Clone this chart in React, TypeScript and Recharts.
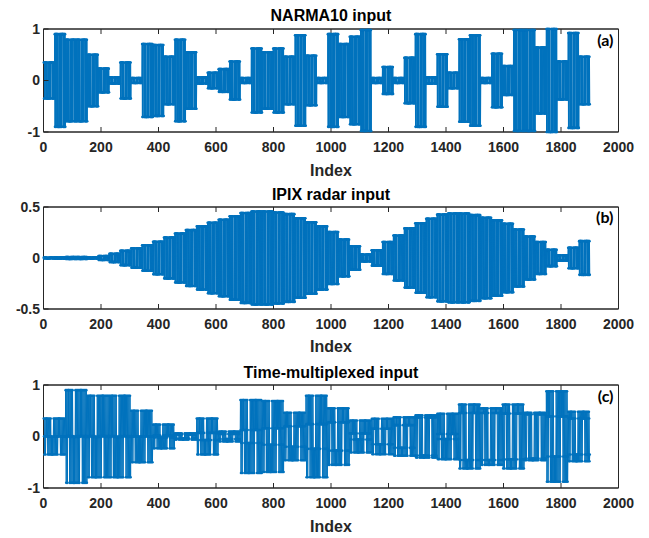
import React from "react";
import { LineChart, Line, XAxis, YAxis, ReferenceArea } from "recharts";

// amplitude of each held input sample (50 samples, 38 virtual nodes each)
const narmaInput = [
  0.35, 0.9, 0.79, 0.79, 0.5, 0.23, 0.06, 0.35, 0.05, 0.71,
  0.69, 0.46, 0.79, 0.55, 0.06, 0.15, 0.22, 0.37, 0.05, 0.62,
  0.55, 0.62, 0.46, 0.88, 0.48, 0.05, 0.9, 0.71, 0.85, 0.98,
  0.05, 0.26, 0.05, 0.44, 0.9, 0.06, 0.51, 0.15, 0.8, 0.88,
  0.05, 0.52, 0.28, 0.98, 0.98, 0.64, 1.0, 0.37, 0.92, 0.46,
];
const ipixInput = [
  0.005, 0.008, 0.01, 0.01, 0.006, 0.02, 0.04, 0.07, 0.095, 0.125,
  0.16, 0.2, 0.24, 0.275, 0.31, 0.345, 0.375, 0.41, 0.44, 0.455,
  0.455, 0.445, 0.43, 0.39, 0.35, 0.31, 0.255, 0.18, 0.115, 0.035,
  0.075, 0.157, 0.22, 0.29, 0.34, 0.385, 0.425, 0.435, 0.435, 0.42,
  0.395, 0.37, 0.335, 0.28, 0.21, 0.157, 0.08, 0.026, 0.1, 0.165,
];
// binary input mask
const mask = [
  1, -1, 1, -1, 1, 1, 1, -1, 1, -1,
  1, -1, 1, -1, -1, -1, -1, 1, -1, 1,
  -1, 1, -1, 1, -1, 1, 1, 1, 1, -1,
  1, -1, 1, -1, 1, -1, 1, -1,
];

const xTicks = [0, 200, 400, 600, 800, 1000, 1200, 1400, 1600, 1800, 2000];
const yTicksUnit = [-1, 0, 1];
const yTicksHalf = [-0.5, 0, 0.5];

const BLUE = "#0072BD";
const AXIS = "#262626";
const FONT = "'Liberation Sans', Arial, Helvetica, sans-serif";
const NODES = 38;

type Pt = { x: number; y: number };

function masked(amps: number[], m: number[]): Pt[] {
  const out: Pt[] = [];
  amps.forEach((a, b) =>
    m.forEach((s, j) => out.push({ x: b * NODES + j + 1, y: a * s }))
  );
  return out;
}

// first 25 samples of each input, interleaved node by node
function multiplexed(a1: number[], a2: number[], m: number[]): Pt[] {
  const out: Pt[] = [];
  for (let b = 0; b < 25; b++) {
    for (let j = 0; j < NODES; j++) {
      const x = b * NODES * 2 + j * 2;
      out.push({ x: x + 1, y: a1[b] * m[j] });
      out.push({ x: x + 2, y: a2[b] * m[j] });
    }
  }
  return out;
}

const narmaData = masked(narmaInput, mask);
const ipixData = masked(ipixInput, mask);
const tmData = multiplexed(narmaInput, ipixInput, mask);

const blank = () => "";

function XTick(props: any) {
  const { x, y, payload } = props;
  return (
    <text x={x} y={y} dy="0.71em" textAnchor="middle" fill={AXIS} fontSize={14} fontWeight="bold" fontFamily={FONT}>
      {payload.value}
    </text>
  );
}

function YTick(props: any) {
  const { x, y, payload } = props;
  return (
    <text x={x} y={y} dy="0.355em" textAnchor="end" fill={AXIS} fontSize={14} fontWeight="bold" fontFamily={FONT}>
      {payload.value}
    </text>
  );
}

interface PanelProps {
  data: Pt[];
  height: number;
  domain: [number, number];
  yTicks: number[];
}

function Panel({ data, height, domain, yTicks }: PanelProps) {
  return (
    <LineChart
      width={649}
      height={height + 60}
      data={data}
      margin={{ top: 18, right: 28.5, bottom: 10, left: 0 }}
    >
      <XAxis
        xAxisId="b"
        dataKey="x"
        type="number"
        domain={[0, 2000]}
        ticks={xTicks}
        interval={0}
        height={30}
        tickSize={-5}
        tickMargin={15}
        stroke={AXIS}
        tick={XTick}
      />
      <XAxis
        xAxisId="t"
        orientation="top"
        dataKey="x"
        type="number"
        domain={[0, 2000]}
        ticks={xTicks}
        interval={0}
        height={2}
        tickSize={-5}
        tickFormatter={blank}
        stroke={AXIS}
      />
      <YAxis
        yAxisId="l"
        type="number"
        domain={domain}
        ticks={yTicks}
        interval={0}
        width={43.5}
        tickSize={-5}
        tickMargin={8.5}
        stroke={AXIS}
        tick={YTick}
      />
      <YAxis
        yAxisId="r"
        orientation="right"
        type="number"
        domain={domain}
        ticks={yTicks}
        interval={0}
        width={2}
        tickSize={-5}
        tickFormatter={blank}
        stroke={AXIS}
      />
      <ReferenceArea
        xAxisId="b"
        yAxisId="l"
        x1={0}
        x2={2000}
        y1={domain[0]}
        y2={domain[1]}
        fill="none"
        stroke={AXIS}
        strokeWidth={1}
        ifOverflow="visible"
      />
      <Line
        xAxisId="b"
        yAxisId="l"
        dataKey="y"
        stroke={BLUE}
        dot={{ r: 1.3, fill: BLUE, strokeWidth: 0 }}
        isAnimationActive={false}
      />
    </LineChart>
  );
}

const panels = [
  { title: "NARMA10 input", tag: "(a)", data: narmaData, top: 28.5, bottom: 131.5, domain: [-1, 1] as [number, number], yTicks: yTicksUnit, titleY: 20.7, tagY: 46, labelY: 175.5 },
  { title: "IPIX radar input", tag: "(b)", data: ipixData, top: 206.5, bottom: 308.5, domain: [-0.5, 0.5] as [number, number], yTicks: yTicksHalf, titleY: 199.5, tagY: 223, labelY: 352 },
  { title: "Time-multiplexed input", tag: "(c)", data: tmData, top: 385, bottom: 488, domain: [-1, 1] as [number, number], yTicks: yTicksUnit, titleY: 377.7, tagY: 401.5, labelY: 531.5 },
];

export default function App() {
  let prevEnd = 0;
  return (
    <div style={{ position: "absolute", left: 0, top: 0, width: 649, height: 538, background: "#fff" }}>
      <svg
        width={649}
        height={538}
        style={{ position: "absolute", left: 0, top: 0, pointerEvents: "none" }}
      >
        {panels.map((p) => (
          <g key={p.tag}>
            <text x={331} y={p.titleY} textAnchor="middle" fontFamily={FONT} fontWeight="bold" fontSize={16} fill="#000">
              {p.title}
            </text>
            <text x={331} y={p.labelY} textAnchor="middle" fontFamily={FONT} fontWeight="bold" fontSize={16} fill={AXIS}>
              Index
            </text>
            <text x={613.5} y={p.tagY} textAnchor="end" fontFamily="Lato, 'Open Sans', sans-serif" fontWeight="bold" fontSize={16} fill="#000">
              {p.tag}
            </text>
          </g>
        ))}
      </svg>
      {panels.map((p) => {
        const chartTop = p.top - 20;
        const gap = chartTop - prevEnd;
        const h = p.bottom - p.top;
        prevEnd = chartTop + h + 60;
        return (
          <div key={p.title} style={{ paddingTop: gap, width: 649 }}>
            <Panel data={p.data} height={h} domain={p.domain} yTicks={p.yTicks} />
          </div>
        );
      })}
    </div>
  );
}
